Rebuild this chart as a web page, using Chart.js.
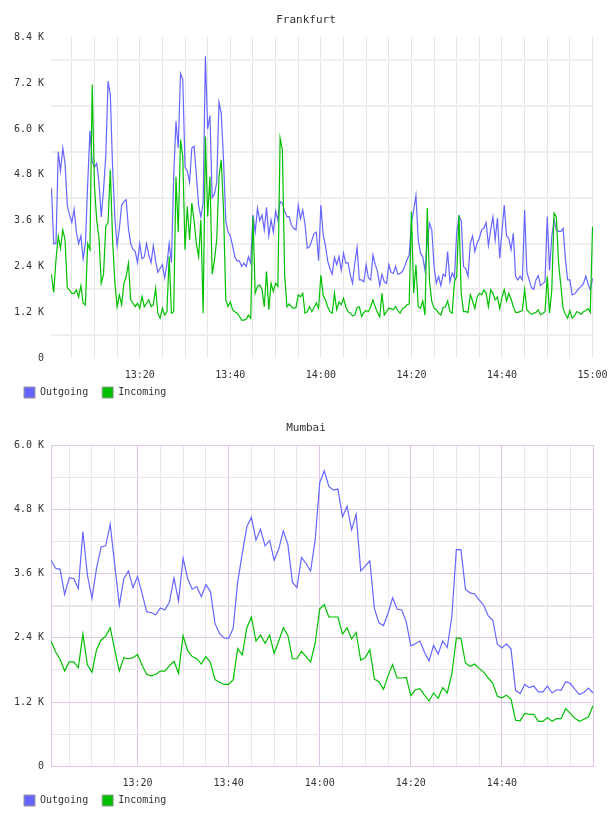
<!DOCTYPE html>
<html><head><meta charset="utf-8">
<script src="https://cdn.jsdelivr.net/npm/chart.js@4.4.1/dist/chart.umd.min.js"></script>
<style>
html,body{margin:0;padding:0;background:#fff;}
canvas{display:block;}
</style></head>
<body>
<canvas id="fra" width="608" height="408"></canvas>
<canvas id="mum" width="608" height="408"></canvas>
<script>
// ---- data (values in K) ----
const seriesNames = ['Outgoing', 'Incoming'];
const xTickMinutes = [20, 40, 60, 80, 100, 120];           // minutes after 13:00
const xTickLabels = ['13:20', '13:40', '14:00', '14:20', '14:40', '15:00'];
const yTickLabelsFra = ['0', '1.2 K', '2.4 K', '3.6 K', '4.8 K', '6.0 K', '7.2 K', '8.4 K'];
const yTickLabelsMum = ['0', '1.2 K', '2.4 K', '3.6 K', '4.8 K', '6.0 K'];

// Frankfurt: one sample every 30 s starting 13:00:30
const fraStart = 0.5, fraStep = 0.5;
const fraOutgoing = [
4.45,3.0,3.0,5.4,4.9,5.5,5.1,4.0,3.75,3.55,
3.9,3.3,3.0,3.2,2.6,3.0,4.55,5.95,5.15,5.0,
5.1,4.6,3.7,4.4,5.3,7.25,6.9,5.0,3.7,2.95,
3.4,4.0,4.1,4.15,3.4,3.0,2.85,2.8,2.5,3.0,
2.6,2.65,3.0,2.7,2.5,2.95,2.55,2.25,2.35,2.45,
2.1,2.45,3.0,2.5,4.75,6.2,5.5,7.45,7.3,5.0,
4.9,4.6,5.5,5.55,4.8,4.0,3.7,4.05,7.9,6.0,
6.35,4.2,4.3,4.6,6.7,6.4,5.2,3.6,3.3,3.2,
2.95,2.65,2.55,2.55,
2.4,2.49,2.4,2.66,2.49,3.75,3.3,3.93,3.6,3.75,
3.36,3.95,3.2,3.62,3.3,3.85,3.62,4.1,4.06,3.85,
3.7,3.71,3.48,3.4,3.36,4.0,3.65,3.88,3.5,2.88,
2.92,3.08,3.27,3.3,2.55,4.01,3.25,2.95,2.55,2.35,
2.2,2.64,2.45,2.66,2.3,2.75,2.49,2.5,2.18,1.96,
2.5,2.9,2.05,2.05,2.0,2.45,2.1,2.05,2.7,2.45,
2.28,1.9,2.2,2.0,1.96,2.45,2.25,2.22,2.4,2.2,
2.22,
2.27,2.4,2.57,2.7,3.55,3.88,4.26,3.1,2.75,2.65,
2.3,3.05,3.53,3.36,2.4,1.96,2.14,1.9,2.2,2.14,
2.79,2.0,2.23,2.1,3.3,3.71,3.6,2.4,2.34,2.14,
3.0,3.2,2.79,3.01,3.14,3.36,3.4,3.55,2.95,3.36,
3.7,3.1,3.67,2.62,3.32,4.01,3.2,3.14,2.84,3.27,
2.14,2.05,2.15,2.05,3.88,2.25,2.05,1.85,1.8,2.05,
2.16,1.9,1.96,2.0,3.71,2.3,3.2,3.62,3.36,3.32,
3.32,3.4,2.6,2.05,2.05,1.66,1.68,1.75,1.83,1.88,
1.96,2.15,1.95,1.79,2.09
];
const fraIncoming = [
2.2,1.72,2.57,3.2,2.88,3.36,3.1,1.85,1.78,1.7,
1.7,1.79,1.6,1.9,1.44,1.4,3.0,2.84,7.16,4.5,
3.6,3.14,1.96,2.2,3.45,3.55,4.93,3.1,2.0,1.35,
1.66,1.4,1.96,2.14,2.49,1.53,1.44,1.35,1.44,1.31,
1.61,1.35,1.44,1.53,1.35,1.4,1.83,1.18,1.05,1.31,
1.13,1.22,2.66,1.18,1.22,4.75,3.3,5.72,5.28,2.84,
3.97,3.1,4.06,3.6,3.0,2.66,3.62,1.18,5.8,3.71,
4.75,2.2,2.57,3.1,4.75,5.19,3.9,1.53,1.35,1.48,
1.27,1.22,1.18,1.1,
1.0,1.0,1.02,1.13,1.05,3.71,1.7,1.88,1.92,1.8,
1.35,2.27,1.27,1.96,1.75,1.96,1.88,5.76,5.45,2.2,
1.35,1.42,1.35,1.31,1.33,1.66,1.61,1.7,1.18,1.22,
1.35,1.22,1.33,1.45,1.31,2.18,1.65,1.53,1.35,1.22,
1.18,1.7,1.27,1.48,1.4,1.57,1.35,1.22,1.18,1.11,
1.13,1.33,1.35,1.09,1.2,1.25,1.22,1.35,1.53,1.35,
1.2,1.09,1.7,1.13,1.22,1.31,1.3,1.27,1.35,1.25,
1.18,
1.3,1.33,1.4,1.42,3.84,1.7,2.44,1.35,1.31,1.5,
1.13,3.93,2.0,1.48,1.31,1.27,1.18,1.13,1.33,1.35,
1.5,1.22,1.18,2.0,2.14,3.75,1.7,1.22,1.22,1.2,
1.66,1.5,1.3,1.6,1.7,1.66,1.79,1.7,1.35,1.79,
1.7,1.53,1.6,1.3,1.6,1.8,1.5,1.7,1.55,1.35,
1.2,1.2,1.22,1.26,1.8,1.27,1.2,1.15,1.18,1.2,
1.27,1.14,1.17,1.22,2.14,1.18,1.79,3.8,3.7,2.49,
1.9,1.3,1.15,1.05,1.25,1.05,1.11,1.22,1.2,1.15,
1.22,1.25,1.3,1.2,3.45
];

// Mumbai: one sample per minute starting 13:01
const mumStart = 1, mumStep = 1;
const mumOutgoing = [
3.85,3.70,3.68,3.21,3.52,3.51,3.32,4.38,3.57,3.14,
3.70,4.10,4.12,4.52,3.76,3.01,3.51,3.65,3.34,3.55,
3.23,2.89,2.87,2.83,2.96,2.92,3.07,3.52,3.09,3.89,
3.51,3.31,3.36,3.17,3.39,3.27,2.67,2.48,2.40,2.39,
2.58,3.45,3.98,4.48,4.65,4.23,4.43,4.12,4.22,3.85,
4.06,4.40,4.15,3.44,3.34,3.90,3.79,3.65,4.23,5.30,
5.52,5.23,5.16,5.18,4.66,4.86,4.42,4.71,3.65,3.74,
3.84,2.95,2.68,2.63,2.86,3.15,2.94,2.92,2.70,2.25,
2.29,2.34,2.13,1.97,2.26,2.10,2.34,2.22,2.79,4.05,
4.05,3.31,3.24,3.22,3.11,3.01,2.81,2.73,2.28,2.21,
2.29,2.19,1.42,1.36,1.53,1.47,1.50,1.39,1.39,1.50,
1.37,1.43,1.42,1.58,1.55,1.44,1.34,1.38,1.46,1.37
];
const mumIncoming = [
2.34,2.14,2.00,1.78,1.95,1.95,1.84,2.47,1.89,1.76,
2.18,2.36,2.43,2.59,2.17,1.78,2.03,2.01,2.03,2.09,
1.89,1.72,1.69,1.72,1.78,1.78,1.88,1.96,1.74,2.44,
2.16,2.05,2.01,1.91,2.05,1.94,1.62,1.57,1.53,1.53,
1.62,2.20,2.08,2.59,2.79,2.34,2.45,2.30,2.45,2.11,
2.34,2.59,2.45,2.01,2.01,2.15,2.05,1.95,2.30,2.94,
3.02,2.79,2.79,2.79,2.47,2.59,2.38,2.50,1.98,2.03,
2.18,1.63,1.58,1.44,1.69,1.90,1.65,1.65,1.66,1.32,
1.43,1.45,1.33,1.22,1.37,1.27,1.47,1.37,1.72,2.40,
2.39,1.93,1.87,1.91,1.83,1.76,1.65,1.55,1.31,1.28,
1.33,1.25,0.86,0.85,0.99,0.97,0.97,0.84,0.84,0.91,
0.84,0.89,0.89,1.08,0.99,0.90,0.84,0.88,0.92,1.13
];

// ---- styles ----
const FONT = '"DejaVu Sans Mono", "Liberation Mono", monospace';
const OUT_COLOR = '#6666ff';
const IN_COLOR = '#00c000';
const TEXT = '#333';
const NONE = 'rgba(0,0,0,0)';

function times(start, step, n) { return Array.from({length: n}, (_, i) => start + i * step); }

function makeChart(id, title, xs, outVals, inVals, cfg) {
  const ds = (label, vals, color, order) => ({
    label, data: vals.map((v, i) => ({x: xs[i], y: v})),
    borderColor: color, backgroundColor: color, borderWidth: 1.2,
    pointRadius: 0, pointHoverRadius: 0, tension: 0, fill: false, order
  });
  return new Chart(document.getElementById(id), {
    type: 'line',
    data: {datasets: [ds(seriesNames[0], outVals, OUT_COLOR, 1), ds(seriesNames[1], inVals, IN_COLOR, 0)]},
    options: {
      responsive: false, animation: false, devicePixelRatio: 1,
      events: [],
      layout: {padding: {left: 10, right: 6, top: 0, bottom: 0}, autoPadding: false},
      plugins: {
        title: {display: true, text: title, color: TEXT,
                font: {family: FONT, size: 11, weight: 'normal'}, padding: {top: 14, bottom: 10}},
        legend: {display: true, position: 'bottom', align: 'start',
          labels: {boxWidth: 11, boxHeight: 11, padding: 14, color: TEXT, font: {family: FONT, size: 10},
            generateLabels: (chart) => chart.data.datasets.map((d, i) => ({
              text: d.label, fillStyle: d.borderColor, strokeStyle: '#999', lineWidth: 1,
              hidden: false, datasetIndex: i, fontColor: TEXT
            }))
          }
        },
        tooltip: {enabled: false}
      },
      scales: {
        x: {
          type: 'linear', position: 'bottom', min: cfg.xMin, max: cfg.xMax,
          afterFit: (s) => {
            s.height = 14.7;
            s.paddingLeft = 0; s.paddingRight = 0;
            s._computeLabelArea = () => undefined;   // let labels overflow the (short) axis box
          },
          ticks: {stepSize: 5, autoSkip: false, maxRotation: 0, minRotation: 0, includeBounds: false,
            padding: 11, color: TEXT, font: {family: FONT, size: 10},
            callback: (v) => {
              const k = xTickMinutes.indexOf(Math.round(v * 1000) / 1000);
              if (k < 0) return '';
              if (!cfg.showLastX && k === xTickMinutes.length - 1) return '';
              return xTickLabels[k];
            }},
          grid: {drawTicks: false, color: cfg.xGridColor, lineWidth: 1},
          border: cfg.border ? {display: true, color: cfg.borderColor, width: 1} : {display: false}
        },
        y: {
          min: 0, max: cfg.yMax,
          afterFit: (s) => { s.width = 41; s.paddingTop = 0; s.paddingBottom = 0; },
          ticks: {stepSize: 0.6, autoSkip: false, includeBounds: false, padding: 7, color: TEXT,
            font: {family: FONT, size: 10},
            callback: (v, i) => (i % 2 === 0 ? cfg.yLabels[i / 2] : '')},
          grid: {drawTicks: false, color: cfg.yGridColor, lineWidth: cfg.yGridWidth},
          border: cfg.border ? {display: true, color: cfg.borderColor, width: 1} : {display: false}
        },
        yR: {
          position: 'right', display: true,
          afterFit: (s) => { s.width = 9; },
          ticks: {display: false}, grid: {display: false}, border: {display: false}
        }
      }
    }
  });
}

const MUM_MAJOR = '#dcc6e4';
const MUM_MINOR = '#ece4ef';

makeChart('fra', 'Frankfurt', times(fraStart, fraStep, fraOutgoing.length), fraOutgoing, fraIncoming, {
  xMin: 0.4, xMax: 120.1, yMax: 8.4, yLabels: yTickLabelsFra, showLastX: true, border: false,
  xGridColor: '#e6e6e6',
  yGridColor: (ctx) => (ctx.index % 2 === 1 ? '#eeeeee' : NONE),
  yGridWidth: 2
});

makeChart('mum', 'Mumbai', times(mumStart, mumStep, mumOutgoing.length), mumOutgoing, mumIncoming, {
  xMin: 1, xMax: 120, yMax: 6.0, yLabels: yTickLabelsMum, showLastX: false, border: true,
  borderColor: MUM_MAJOR,
  xGridColor: (ctx) => (ctx.tick && Math.round(ctx.tick.value) % 20 === 0 ? MUM_MAJOR : MUM_MINOR),
  yGridColor: (ctx) => (ctx.index === 5 ? '#e6e6e6' : (ctx.index % 2 === 0 ? MUM_MAJOR : MUM_MINOR)),
  yGridWidth: (ctx) => (ctx.index === 5 ? 2 : 1)
});
</script>
</body></html>
